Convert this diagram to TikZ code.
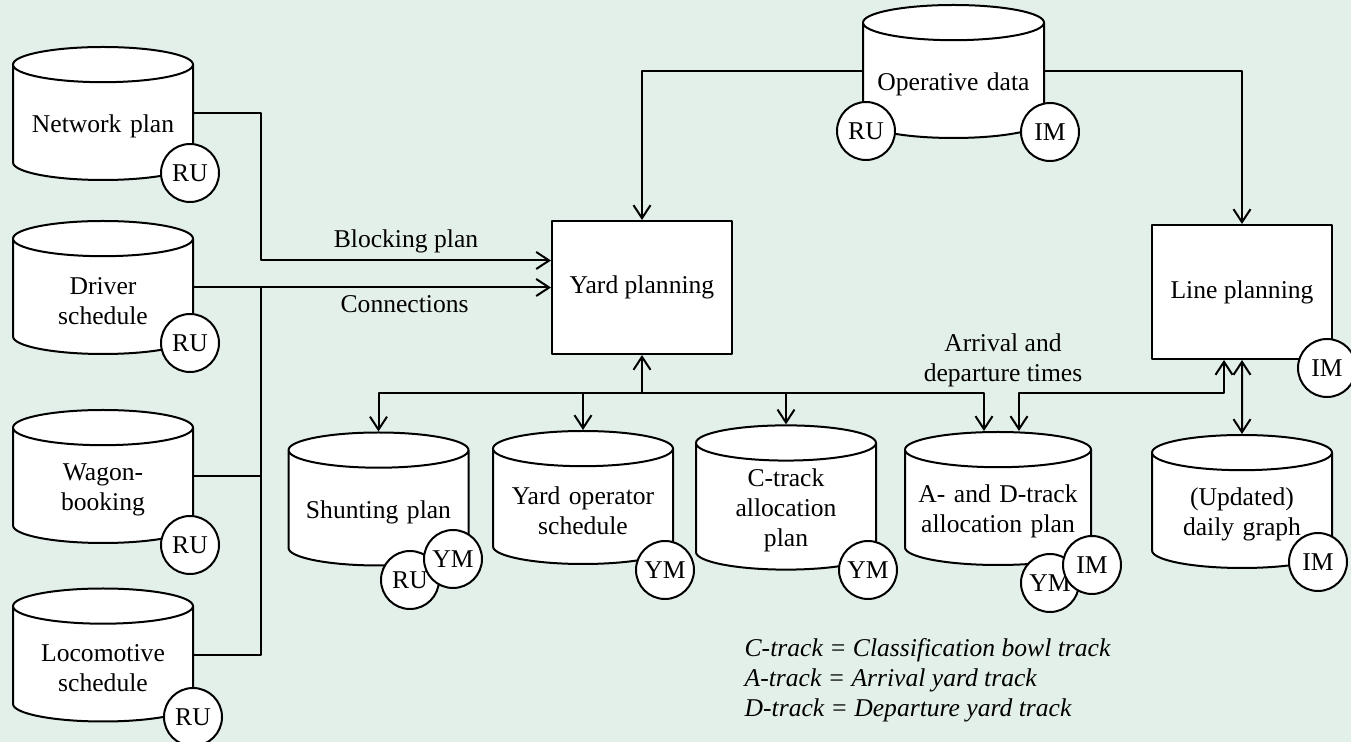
\documentclass[tikz,border=0pt]{standalone}
\usepackage{fontspec}
\setmainfont{Liberation Serif}
\usetikzlibrary{shapes.geometric,arrows.meta}
\definecolor{bgmint}{RGB}{227,240,233}
\begin{document}
\begin{tikzpicture}[x=0.5pt,y=-0.5pt,line join=round,line width=1pt,>={Straight Barb[length=6.5pt,width=8.5pt]}]
	\tikzset{every node/.style={font=\fontsize{12.8}{15}\selectfont},
		store style/.style={cylinder,shape border rotate=90,shape aspect=0.22,draw,fill=white,minimum width=90pt,minimum height=66.5pt,inner sep=0pt,text width=80pt,text height=12.5pt,align=center,anchor=shape center},
		plan style/.style={draw,fill=white,minimum width=90pt,minimum height=66.5pt},
		role style/.style={circle,draw,fill=white,minimum size=29pt,inner sep=0pt}}
	\useasboundingbox (0,0) rectangle (1351,742);
	\fill[bgmint] (0,0) rectangle (1351,742);
	% data stores
	\node[store style] (netplan) at (103,113.5) {Network plan};
	\node[store style] (driver) at (103,287.5) {Driver\\schedule};
	\node[store style] (wagon) at (103,476.5) {Wagon-\\booking};
	\node[store style] (loco) at (103,655) {Locomotive\\schedule};
	\node[store style,minimum width=90.5pt] (opdata) at (953.5,71.5) {Operative data};
	\node[store style] (shunt) at (378.5,499) {Shunting plan};
	\node[store style] (yardop) at (583,497.5) {Yard operator\\schedule};
	\node[store style] (ctrack) at (786,497.5) {C-track\\allocation\\plan};
	\node[store style,minimum width=93pt] (adtrack) at (998,498.5) {A- and D-track\\allocation plan};
	\node[store style] (daily) at (1242,501.5) {(Updated)\\daily graph};
	% planning steps
	\node[plan style] (yard) at (642,287.5) {Yard planning};
	\node[plan style,minimum height=67pt] (line) at (1242,292) {Line planning};
	% owners
	\node[role style] (netplan-ru) at (190,173) {RU};
	\node[role style] (driver-ru) at (190,343) {RU};
	\node[role style] (wagon-ru) at (190,545) {RU};
	\node[role style] (loco-ru) at (193,717) {RU};
	\node[role style] (opdata-ru) at (866,131) {RU};
	\node[role style] (opdata-im) at (1050,132) {IM};
	\node[role style] (shunt-ru) at (410,580) {RU};
	\node[role style] (shunt-ym) at (453,559) {YM};
	\node[role style] (yardop-ym) at (665,570) {YM};
	\node[role style] (ctrack-ym) at (868,570) {YM};
	\node[role style] (adtrack-ym) at (1050,583) {YM};
	\node[role style] (adtrack-im) at (1092,565) {IM};
	\node[role style] (line-im) at (1327,368) {IM};
	\node[role style] (daily-im) at (1318,562) {IM};
	% inputs to yard planning
	\coordinate (bus) at (261,0);
	\coordinate (blk) at ([yshift=13.5pt]yard.west);
	\draw[->] (netplan.shape center -| netplan.east) -| (bus |- blk) -- (blk) node[midway,above] {Blocking plan};
	\draw[->] (driver.shape center -| driver.east) -- (yard.west) node[pos=0.59,below] {Connections};
	\draw (wagon.shape center -| wagon.east) -- (bus |- wagon.shape center);
	\draw (bus |- driver.shape center) |- (loco.shape center -| loco.east);
	\draw[->] (opdata.shape center -| opdata.west) -| (yard.north);
	\draw[->] (opdata.shape center -| opdata.east) -| (line.north);
	% outputs
	\coordinate (ybus) at (0,393);
	\draw[->] (yard.south |- ybus) -- (yard.south);
	\foreach \c in {shunt,yardop,ctrack}
		\draw[->] (yard.south |- ybus) -| (\c.north);
	\draw[->] (yard.south |- ybus) -| ([xshift=-7pt]adtrack.north);
	\draw[<->] ([xshift=-9pt]line.south) |- ([xshift=10.5pt]adtrack.north |- ybus) -- ([xshift=10.5pt]adtrack.north);
	\draw[<->] (line.south) -- (daily.north);
	\node[align=center] (times) at (1003,360) {Arrival and\\departure times};
	\node[anchor=west,align=left,font=\fontsize{12.8}{15}\selectfont\itshape] (legend) at (737,680) {C-track = Classification bowl track\\A-track = Arrival yard track\\D-track = Departure yard track};
\end{tikzpicture}
\end{document}
